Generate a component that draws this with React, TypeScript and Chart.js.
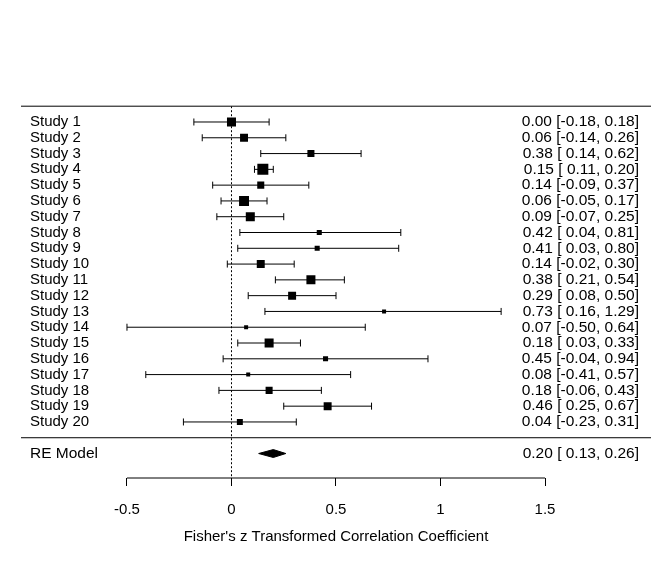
import React, { useEffect, useRef } from 'react';
import { Chart, registerables } from 'chart.js';

Chart.register(...registerables);

// ---------------- data ----------------
const studies = [
  'Study 1', 'Study 2', 'Study 3', 'Study 4', 'Study 5', 'Study 6', 'Study 7', 'Study 8', 'Study 9', 'Study 10',
  'Study 11', 'Study 12', 'Study 13', 'Study 14', 'Study 15', 'Study 16', 'Study 17', 'Study 18', 'Study 19', 'Study 20',
];
const estimates = [0.00, 0.06, 0.38, 0.15, 0.14, 0.06, 0.09, 0.42, 0.41, 0.14, 0.38, 0.29, 0.73, 0.07, 0.18, 0.45, 0.08, 0.18, 0.46, 0.04];
const lowers = [-0.18, -0.14, 0.14, 0.11, -0.09, -0.05, -0.07, 0.04, 0.03, -0.02, 0.21, 0.08, 0.16, -0.50, 0.03, -0.04, -0.41, -0.06, 0.25, -0.23];
const uppers = [0.18, 0.26, 0.62, 0.20, 0.37, 0.17, 0.25, 0.81, 0.80, 0.30, 0.54, 0.50, 1.29, 0.64, 0.33, 0.94, 0.57, 0.43, 0.67, 0.31];
// relative (random-effects) weights
const weights = [5.8, 5.0, 4.3, 7.3, 4.3, 6.5, 5.8, 2.8, 2.8, 5.0, 5.8, 5.0, 2.0, 2.0, 5.8, 2.8, 2.0, 4.3, 5.0, 3.5];

const modelLabel = 'RE Model';
const modelEstimate = 0.20;
const modelLower = 0.13;
const modelUpper = 0.26;

const xTicks = [-0.5, 0, 0.5, 1, 1.5];
const xTickLabels = ['-0.5', '0', '0.5', '1', '1.5'];
const xTitle = "Fisher's z Transformed Correlation Coefficient";
const refValue = 0;

// ---------------- layout / style ----------------
const X_MIN = -1.007;
const X_MAX = 2.007;
const Y_MIN = -2.55;
const Y_MAX = studies.length + 1;
const MODEL_ROW = -1;
const DIAMOND_HALF = 0.25; // rows
const MIN_SIDE = 4;
const MAX_SIDE = 11;
const FONT = '"Liberation Sans", Arial, Helvetica, sans-serif';
const FONT_SIZE = 15;
const NUM_FONT_SIZE = 15.5;

const rows = studies.map((_, i) => studies.length - i);

const fmt = (v: number) => v.toFixed(2);
const padNum = (v: number) => (v < 0 ? fmt(v) : ' ' + fmt(v));
const annotation = (e: number, l: number, u: number) => `${fmt(e)} [${padNum(l)}, ${fmt(u)}]`;

export default function App() {
  const canvasRef = useRef<HTMLCanvasElement | null>(null);

  useEffect(() => {
    if (!canvasRef.current) return;
    const wMin = Math.min(...weights);
    const wMax = Math.max(...weights);
    const sides = weights.map((w) => MIN_SIDE + ((w - wMin) / (wMax - wMin)) * (MAX_SIDE - MIN_SIDE));
    const radii = sides.map((s) => s / Math.SQRT2);

    const black = '#000000';
    const datasets: any[] = [];

    // squares
    datasets.push({
      label: 'estimates',
      data: estimates.map((e, i) => ({ x: e, y: rows[i] })),
      showLine: false,
      pointStyle: 'rect',
      pointRadius: radii,
      pointBackgroundColor: black,
      pointBorderWidth: 0,
      borderWidth: 0,
    });

    // CI lines with end caps
    studies.forEach((_, i) => {
      datasets.push({
        label: 'ci' + i,
        data: [
          { x: lowers[i], y: rows[i] },
          { x: uppers[i], y: rows[i] },
        ],
        showLine: true,
        borderColor: black,
        borderWidth: 1,
        pointStyle: 'line',
        pointRotation: 90,
        pointRadius: 3.5,
        pointBorderColor: black,
        pointBorderWidth: 1,
      });
    });

    // summary diamond
    datasets.push({
      label: 'model',
      data: [
        { x: modelLower, y: MODEL_ROW },
        { x: modelEstimate, y: MODEL_ROW + DIAMOND_HALF },
        { x: modelUpper, y: MODEL_ROW },
        { x: modelEstimate, y: MODEL_ROW - DIAMOND_HALF },
        { x: modelLower, y: MODEL_ROW },
      ],
      showLine: true,
      fill: 'shape',
      backgroundColor: black,
      borderColor: black,
      borderWidth: 1,
      pointRadius: 0,
      tension: 0,
    });

    // reference line (dotted)
    datasets.push({
      label: 'ref',
      data: [
        { x: refValue, y: Y_MAX },
        { x: refValue, y: Y_MIN },
      ],
      showLine: true,
      borderColor: black,
      borderWidth: 1,
      borderDash: [2, 2],
      pointRadius: 0,
    });

    // horizontal separators
    [Y_MAX, 0].forEach((r) => {
      datasets.push({
        label: 'sep' + r,
        data: [
          { x: X_MIN, y: r },
          { x: X_MAX, y: r },
        ],
        showLine: true,
        borderColor: black,
        borderWidth: 1,
        pointRadius: 0,
        clip: false,
      });
    });

    // axis line
    datasets.push({
      label: 'axis',
      data: [
        { x: xTicks[0], y: Y_MIN },
        { x: xTicks[xTicks.length - 1], y: Y_MIN },
      ],
      showLine: true,
      borderColor: black,
      borderWidth: 1,
      pointRadius: 0,
      clip: false,
    });

    const textPlugin = {
      id: 'forestText',
      afterDatasetsDraw(chart: any) {
        const { ctx, chartArea, scales } = chart;
        const y = scales.y;
        ctx.save();
        ctx.fillStyle = black;
        ctx.textBaseline = 'middle';
        const labelFont = `${FONT_SIZE}px ${FONT}`;
        const numFont = `${NUM_FONT_SIZE}px ${FONT}`;
        studies.forEach((s, i) => {
          const py = y.getPixelForValue(rows[i]);
          ctx.font = labelFont;
          ctx.textAlign = 'left';
          ctx.fillText(s, chartArea.left + 9, py);
          ctx.font = numFont;
          ctx.textAlign = 'right';
          ctx.fillText(annotation(estimates[i], lowers[i], uppers[i]), chartArea.right - 12, py);
        });
        const my = y.getPixelForValue(MODEL_ROW);
        ctx.font = `${NUM_FONT_SIZE}px ${FONT}`;
        ctx.textAlign = 'left';
        ctx.fillText(modelLabel, chartArea.left + 9, my);
        ctx.textAlign = 'right';
        ctx.fillText(annotation(modelEstimate, modelLower, modelUpper), chartArea.right - 12, my);
        ctx.restore();
      },
    };

    const chart = new Chart(canvasRef.current, {
      type: 'scatter',
      data: { datasets },
      plugins: [textPlugin],
      options: {
        animation: false,
        responsive: true,
        maintainAspectRatio: false,
        events: [],
        layout: { padding: { left: 21, right: 21, top: 106.2, bottom: 30 } },
        plugins: { legend: { display: false }, tooltip: { enabled: false } },
        scales: {
          x: {
            type: 'linear',
            min: X_MIN,
            max: X_MAX,
            afterBuildTicks: (scale: any) => {
              scale.ticks = xTicks.map((v) => ({ value: v }));
            },
            ticks: {
              autoSkip: false,
              maxRotation: 0,
              padding: 15,
              color: black,
              font: { family: FONT, size: FONT_SIZE },
              callback: (value: any) => {
                const idx = xTicks.indexOf(Number(value));
                return idx >= 0 ? xTickLabels[idx] : '';
              },
            },
            grid: {
              display: true,
              drawOnChartArea: false,
              drawTicks: true,
              tickLength: 8,
              color: black,
              lineWidth: 1,
            },
            border: { display: false },
            title: {
              display: true,
              text: xTitle,
              color: black,
              font: { family: FONT, size: FONT_SIZE },
              padding: { top: -6, bottom: 0 },
            },
          },
          y: {
            type: 'linear',
            display: false,
            min: Y_MIN,
            max: Y_MAX,
          },
        },
      } as any,
    });

    return () => chart.destroy();
  }, []);

  return (
    <div style={{ position: 'fixed', left: 0, top: 0, width: 672, height: 576, background: '#ffffff' }}>
      <canvas ref={canvasRef} />
    </div>
  );
}
